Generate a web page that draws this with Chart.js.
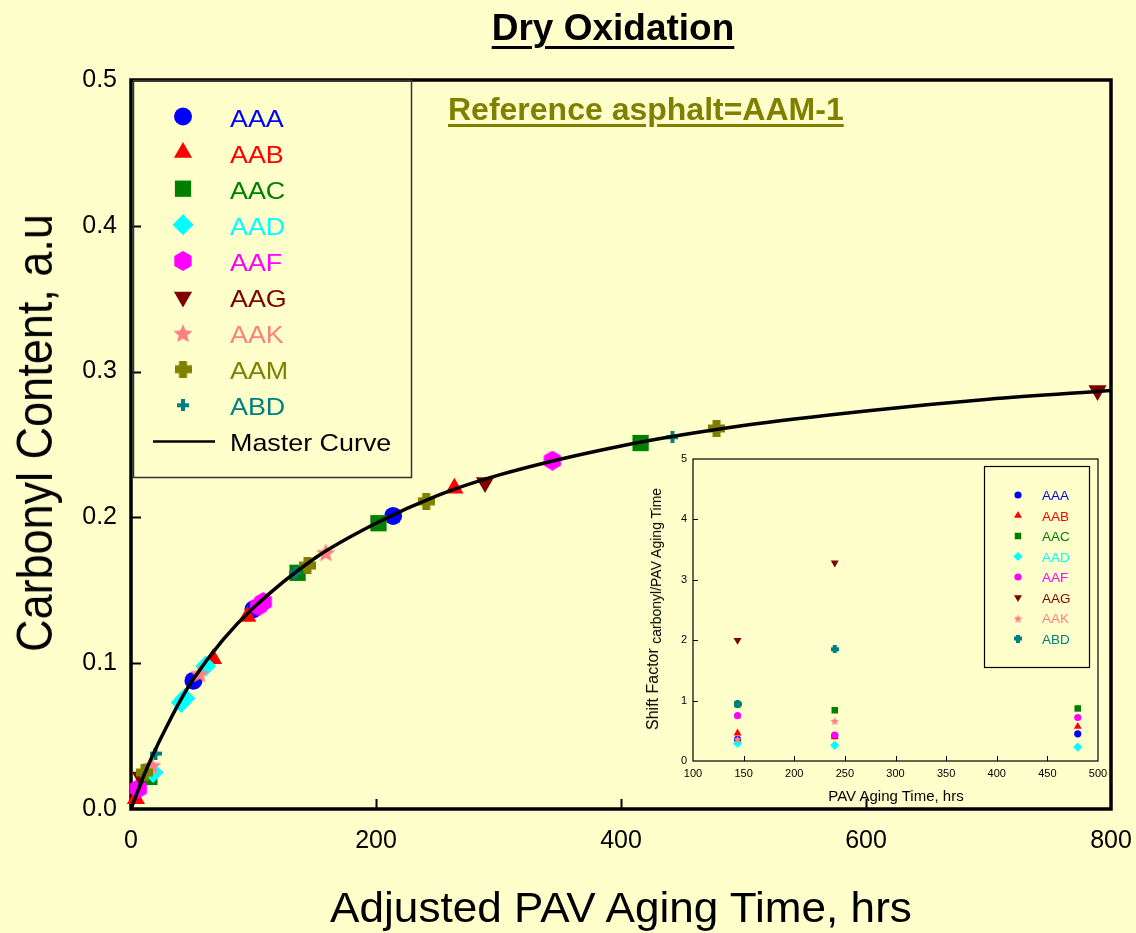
<!DOCTYPE html>
<html>
<head>
<meta charset="utf-8">
<title>Dry Oxidation</title>
<script src="https://cdn.jsdelivr.net/npm/chart.js@4.4.1/dist/chart.umd.min.js"></script>
<style>
  html, body { margin: 0; padding: 0; background: #FFFFCC; }
  #wrap { position: relative; width: 1136px; height: 933px; overflow: hidden;
          font-family: "Liberation Sans", Arial, sans-serif; color: #000; }
  #mainChart { position: absolute; left: 0; top: 0; }
  #insetChart { position: absolute; left: 640px; top: 445px; }
  .lbl { position: absolute; white-space: nowrap; line-height: 1; }
  #title { left: 613px; top: 9px; font-size: 37px; font-weight: bold; transform: translateX(-50%);
           text-decoration: underline; text-decoration-thickness: 3px; text-underline-offset: 6px; }
  #refNote { left: 448px; top: 93px; font-size: 32px; font-weight: bold; color: #808000;
             text-decoration: underline; text-decoration-thickness: 3px; text-underline-offset: 4px; }
  #yTitle { left: 35px; top: 433px; font-size: 45px; transform: translate(-50%, -50%) rotate(-90deg) scaleY(1.1); }
  #xTitle { left: 621px; top: 908px; font-size: 42px; transform: translate(-50%, -50%) scaleX(1.05); }
  #insetX { left: 896px; top: 795px; font-size: 15px; transform: translate(-50%, -50%); }
  #insetY { left: 654px; top: 609px; font-size: 16px; transform: translate(-50%, -50%) rotate(-90deg); }
  #insetY span { font-size: 14px; vertical-align: -3px; }
</style>
</head>
<body>
<div id="wrap">
  <canvas id="mainChart" width="1136" height="933"></canvas>
  <canvas id="insetChart" width="470" height="360"></canvas>
  <div class="lbl" id="title">Dry Oxidation</div>
  <div class="lbl" id="refNote">Reference asphalt=AAM-1</div>
  <div class="lbl" id="yTitle">Carbonyl Content, a.u</div>
  <div class="lbl" id="xTitle">Adjusted PAV Aging Time, hrs</div>
  <div class="lbl" id="insetX">PAV Aging Time, hrs</div>
  <div class="lbl" id="insetY">Shift Factor <span>carbonyl/PAV Aging Time</span></div>
</div>
<script>
// ---- DATA ----
var seriesNames = ['AAA', 'AAB', 'AAC', 'AAD', 'AAF', 'AAG', 'AAK', 'AAM', 'ABD'];
var seriesColors = ['#0000FF', '#FF0000', '#008000', '#00FFFF', '#FF00FF', '#800000', '#FF8080', '#808000', '#008080'];

// main plot: adjusted PAV time (hrs) / carbonyl content
var aaaX = [51, 100, 214];            var aaaY = [0.088, 0.137, 0.201];
var aabX = [4, 67, 95, 264];          var aabY = [0.007, 0.103, 0.132, 0.220];
var aacX = [15, 136, 202, 416];       var aacY = [0.022, 0.162, 0.196, 0.251];
var aadX = [18, 41, 44, 61];          var aadY = [0.025, 0.073, 0.076, 0.098];
var aafX = [6, 104, 108, 344];        var aafY = [0.014, 0.139, 0.142, 0.239];
var aagX = [8, 289, 789];             var aagY = [0.022, 0.224, 0.287];
var aakX = [17, 56, 159];             var aakY = [0.030, 0.093, 0.176];
var aamX = [11, 144, 241, 478];       var aamY = [0.025, 0.167, 0.211, 0.261];
var abdX = [20, 134, 442];            var abdY = [0.038, 0.162, 0.255];

// master curve, read at a few times along the drawn line
var curveX = [0, 5, 10, 20, 30, 40, 50, 75, 100, 150, 200, 250, 300, 400, 500, 600, 700, 800];
var curveY = [0, 0.011, 0.022, 0.041, 0.058, 0.074, 0.088, 0.116, 0.138, 0.172, 0.196, 0.215, 0.229, 0.249, 0.263, 0.273, 0.281, 0.287];

var xTicksMain = [0, 200, 400, 600, 800];
var yTicksMain = [0, 0.1, 0.2, 0.3, 0.4, 0.5];

// inset: shift factor vs PAV aging time
var insetNames = ['AAA', 'AAB', 'AAC', 'AAD', 'AAF', 'AAG', 'AAK', 'ABD'];
var insetColors = ['#0000FF', '#FF0000', '#008000', '#00FFFF', '#FF00FF', '#800000', '#FF8080', '#008080'];
var pavTimes = [144, 240, 480];
var shiftAAA = [0.36, 0.42, 0.45];
var shiftAAB = [0.46, 0.40, 0.57];
var shiftAAC = [0.94, 0.84, 0.87];
var shiftAAD = [0.29, 0.26, 0.23];
var shiftAAF = [0.75, 0.43, 0.72];
var shiftAAG = [2.00, 3.28, null];
var shiftAAK = [0.37, 0.67, null];
var shiftABD = [0.94, 1.85, null];

var FONT = '"Liberation Sans", Arial, sans-serif';
Chart.defaults.font.family = FONT;
Chart.defaults.color = '#000';

// ---- MARKERS ----
function makeMarker(shape, color, size, arm) {
  var c = document.createElement('canvas');
  c.width = size; c.height = size;
  var ctx = c.getContext('2d');
  var m = size / 2, i, a, r;
  ctx.fillStyle = color;
  ctx.beginPath();
  if (shape === 'hexagon') {
    for (i = 0; i < 6; i++) {
      a = -Math.PI / 2 + i * Math.PI / 3;
      i ? ctx.lineTo(m + Math.cos(a) * m, m + Math.sin(a) * m) : ctx.moveTo(m + Math.cos(a) * m, m + Math.sin(a) * m);
    }
  } else if (shape === 'star') {
    for (i = 0; i < 10; i++) {
      a = -Math.PI / 2 + i * Math.PI / 5;
      r = i % 2 ? m * 0.45 : m;
      i ? ctx.lineTo(m + Math.cos(a) * r, m + 1 + Math.sin(a) * r) : ctx.moveTo(m + Math.cos(a) * r, m + 1 + Math.sin(a) * r);
    }
  } else if (shape === 'plus') {
    ctx.rect(m - arm / 2, 0, arm, size);
    ctx.rect(0, m - arm / 2, size, arm);
  }
  ctx.closePath();
  ctx.fill();
  return c;
}

var mainMarkers = [
  { pointStyle: 'circle', radius: 9 },
  { pointStyle: 'triangle', radius: 10.5 },
  { pointStyle: 'rect', radius: 11.5 },
  { pointStyle: 'rectRot', radius: 10.5 },
  { pointStyle: makeMarker('hexagon', seriesColors[4], 20), radius: 9 },
  { pointStyle: 'triangle', radius: 10.5, rotation: 180 },
  { pointStyle: makeMarker('star', seriesColors[6], 20), radius: 9 },
  { pointStyle: makeMarker('plus', seriesColors[7], 17, 8), radius: 9 },
  { pointStyle: makeMarker('plus', seriesColors[8], 12, 4), radius: 6 }
];

var insetMarkers = [
  { pointStyle: 'circle', radius: 3.6 },
  { pointStyle: 'triangle', radius: 4.6 },
  { pointStyle: 'rect', radius: 4.6 },
  { pointStyle: 'rectRot', radius: 4.6 },
  { pointStyle: 'circle', radius: 3.6 },
  { pointStyle: 'triangle', radius: 4.6, rotation: 180 },
  { pointStyle: makeMarker('star', insetColors[6], 9), radius: 4 },
  { pointStyle: makeMarker('plus', insetColors[7], 8, 4), radius: 4 }
];

function pts(xs, ys) {
  var out = [];
  xs.forEach(function (x, i) { if (ys[i] !== null) out.push({ x: x, y: ys[i] }); });
  return out;
}

function stretchedText(ctx, text, x, y, font, color, sx) {
  ctx.save();
  ctx.translate(x, y);
  ctx.scale(sx, 1);
  ctx.font = font;
  ctx.fillStyle = color;
  ctx.textAlign = 'left';
  ctx.textBaseline = 'alphabetic';
  ctx.fillText(text, 0, 0);
  ctx.restore();
}

// ---- PLUGINS ----
function framePlugin(id, lw, tickLen, tickW) {
  return {
    id: id,
    beforeDatasetsDraw: function (chart) {
      var a = chart.chartArea, ctx = chart.ctx, xs = chart.scales.x, ys = chart.scales.y;
      ctx.save();
      ctx.strokeStyle = '#000';
      ctx.lineWidth = tickW;
      xs.ticks.forEach(function (t) {
        if (t.value <= xs.min || t.value >= xs.max) return;
        var px = Math.round(xs.getPixelForValue(t.value)) + 0.5;
        ctx.beginPath(); ctx.moveTo(px, a.bottom); ctx.lineTo(px, a.bottom - tickLen); ctx.stroke();
      });
      ys.ticks.forEach(function (t) {
        if (t.value <= ys.min || t.value >= ys.max) return;
        var py = Math.round(ys.getPixelForValue(t.value)) + 0.5;
        ctx.beginPath(); ctx.moveTo(a.left, py); ctx.lineTo(a.left + tickLen, py); ctx.stroke();
      });
      ctx.lineWidth = lw;
      ctx.strokeRect(a.left, a.top, a.right - a.left, a.bottom - a.top);
      ctx.restore();
    }
  };
}

var mainLegend = {
  id: 'mainLegend',
  afterDatasetsDraw: function (chart) {
    var ctx = chart.ctx;
    ctx.save();
    ctx.strokeStyle = '#333';
    ctx.lineWidth = 1.5;
    ctx.strokeRect(133.5, 80.5, 278, 397);
    seriesNames.forEach(function (name, i) {
      var y = 116.5 + i * 36.1;
      ctx.fillStyle = seriesColors[i];
      Chart.helpers.drawPoint(ctx, mainMarkers[i], 183, y);
      stretchedText(ctx, name, 230, y + 10, '24px ' + FONT, seriesColors[i], 1.12);
    });
    var ly = 116.5 + 9 * 36.1;
    ctx.strokeStyle = '#000';
    ctx.lineWidth = 2.5;
    ctx.beginPath(); ctx.moveTo(153, ly); ctx.lineTo(215, ly); ctx.stroke();
    stretchedText(ctx, 'Master Curve', 230, ly + 10, '24px ' + FONT, '#000', 1.12);
    ctx.restore();
  }
};

var insetLegend = {
  id: 'insetLegend',
  afterDatasetsDraw: function (chart) {
    var ctx = chart.ctx;
    ctx.save();
    ctx.strokeStyle = '#000';
    ctx.lineWidth = 1.2;
    ctx.strokeRect(344.5, 21.5, 105, 201);
    insetNames.forEach(function (name, i) {
      var y = 50 + i * 20.5;
      ctx.fillStyle = insetColors[i];
      Chart.helpers.drawPoint(ctx, insetMarkers[i], 378, y);
      stretchedText(ctx, name, 402, y + 5, '13.5px ' + FONT, insetColors[i], 1);
    });
    ctx.restore();
  }
};

// ---- MAIN CHART ----
var mainSeriesX = [aaaX, aabX, aacX, aadX, aafX, aagX, aakX, aamX, abdX];
var mainSeriesY = [aaaY, aabY, aacY, aadY, aafY, aagY, aakY, aamY, abdY];

// curve sits on top of the markers; later series sit on top of earlier ones
var mainDatasets = [{
  type: 'line',
  label: 'Master Curve',
  data: pts(curveX, curveY),
  showLine: true,
  borderColor: '#000',
  borderWidth: 3.5,
  pointRadius: 0,
  fill: false,
  cubicInterpolationMode: 'monotone',
  order: 0
}];
seriesNames.forEach(function (name, i) {
  mainDatasets.push({
    label: name,
    data: pts(mainSeriesX[i], mainSeriesY[i]),
    backgroundColor: seriesColors[i],
    borderColor: seriesColors[i],
    borderWidth: 0,
    pointStyle: mainMarkers[i].pointStyle,
    pointRadius: mainMarkers[i].radius,
    pointRotation: mainMarkers[i].rotation || 0,
    clip: false,
    order: seriesNames.length - i
  });
});

new Chart(document.getElementById('mainChart'), {
  type: 'scatter',
  data: { datasets: mainDatasets },
  options: {
    responsive: false,
    animation: false,
    events: [],
    layout: { padding: { left: 0, top: 80, right: 25, bottom: 0 } },
    plugins: { legend: { display: false }, tooltip: { enabled: false } },
    scales: {
      x: {
        type: 'linear', min: 0, max: 800,
        afterBuildTicks: function (s) { s.ticks = xTicksMain.map(function (v) { return { value: v }; }); },
        ticks: { font: { size: 25 }, color: '#000', padding: 17, maxRotation: 0, autoSkip: false },
        grid: { display: false, drawTicks: false },
        border: { display: false },
        afterFit: function (s) { s.height = 124; s.paddingLeft = 0; s.paddingRight = 0; }
      },
      y: {
        type: 'linear', min: 0, max: 0.5,
        afterBuildTicks: function (s) { s.ticks = yTicksMain.map(function (v) { return { value: v }; }); },
        ticks: { font: { size: 25 }, color: '#000', padding: 14, callback: function (v) { return v.toFixed(1); } },
        grid: { display: false, drawTicks: false },
        border: { display: false },
        afterFit: function (s) { s.width = 131; s.paddingTop = 0; s.paddingBottom = 0; }
      }
    }
  },
  plugins: [framePlugin('mainFrame', 3.5, 10, 2), mainLegend]
});

// ---- INSET CHART ----
var insetSeries = [shiftAAA, shiftAAB, shiftAAC, shiftAAD, shiftAAF, shiftAAG, shiftAAK, shiftABD];
var insetDatasets = [];
insetNames.forEach(function (name, i) {
  insetDatasets.push({
    label: name,
    data: pts(pavTimes, insetSeries[i]),
    backgroundColor: insetColors[i],
    borderColor: insetColors[i],
    borderWidth: 0,
    pointStyle: insetMarkers[i].pointStyle,
    pointRadius: insetMarkers[i].radius,
    pointRotation: insetMarkers[i].rotation || 0,
    clip: false,
    order: insetNames.length - i
  });
});

new Chart(document.getElementById('insetChart'), {
  type: 'scatter',
  data: { datasets: insetDatasets },
  options: {
    responsive: false,
    animation: false,
    events: [],
    layout: { padding: { left: 0, top: 14, right: 12, bottom: 0 } },
    plugins: { legend: { display: false }, tooltip: { enabled: false } },
    scales: {
      x: {
        type: 'linear', min: 100, max: 500,
        ticks: { stepSize: 50, font: { size: 11 }, color: '#000', padding: 6, maxRotation: 0, autoSkip: false },
        grid: { display: false, drawTicks: false },
        border: { display: false },
        afterFit: function (s) { s.height = 44; s.paddingLeft = 0; s.paddingRight = 0; }
      },
      y: {
        type: 'linear', min: 0, max: 5,
        ticks: { stepSize: 1, font: { size: 11 }, color: '#000', padding: 6 },
        grid: { display: false, drawTicks: false },
        border: { display: false },
        afterFit: function (s) { s.width = 53; s.paddingTop = 0; s.paddingBottom = 0; }
      }
    }
  },
  plugins: [framePlugin('insetFrame', 1.2, 5, 1), insetLegend]
});
</script>
</body>
</html>
